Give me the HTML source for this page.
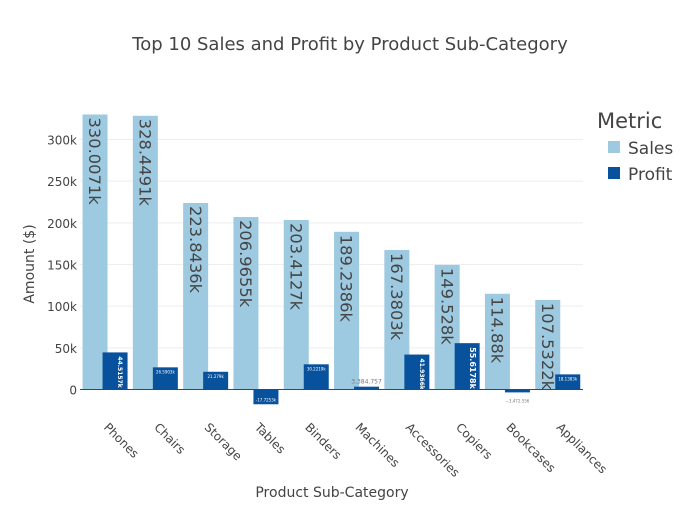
<!DOCTYPE html>
<html><head><meta charset="utf-8"><style>
body{margin:0;background:#fff}
svg text{font-family:"DejaVu Sans","Liberation Sans",sans-serif}
</style></head><body>
<svg id="chart" width="700" height="500">
<text x="350" y="50" text-anchor="middle" font-size="18" fill="#444">Top 10 Sales and Profit by Product Sub-Category</text>
<g id="grid"></g><g id="bars"></g><g id="labels"></g>
<text transform="translate(34,264) rotate(-90)" text-anchor="middle" font-size="14" fill="#444">Amount ($)</text>
<text x="332" y="497" text-anchor="middle" font-size="14" fill="#444">Product Sub-Category</text>
<g>
<text x="597" y="128" font-size="21" fill="#444">Metric</text>
<rect x="608" y="141" width="12" height="12" fill="#9ecae1"/>
<text x="628" y="154" font-size="17" fill="#444">Sales</text>
<rect x="608" y="167" width="12" height="12" fill="#08519c"/>
<text x="628" y="180" font-size="17" fill="#444">Profit</text>
</g>
</svg>
<script>
const categories=["Phones","Chairs","Storage","Tables","Binders","Machines","Accessories","Copiers","Bookcases","Appliances"];
const sales=[330.0071,328.4491,223.8436,206.9655,203.4127,189.2386,167.3803,149.528,114.88,107.5322];
const profit=[44.5157,26.5903,21.279,-17.7253,30.2219,3.3848,41.9366,55.6178,-3.4726,18.1383];
const salesLabels=["330.0071k","328.4491k","223.8436k","206.9655k","203.4127k","189.2386k","167.3803k","149.528k","114.88k","107.5322k"];
const profitLabels=["44.5157k","26.5903k","21.279k","-17.7253k","30.2219k","3,384.757","41.9366k","55.6178k","\u22123,472.556","18.1383k"];
const yTicks=[0,50,100,150,200,250,300];
const X0=80,W=503,Y0=389.5,K=0.8333;
const NS="http://www.w3.org/2000/svg";
const cw=W/categories.length;
const xc=i=>X0+cw*(i+0.5);
const y=v=>Y0-v*K;
function mk(tag,attrs,parent){const e=document.createElementNS(NS,tag);for(const k in attrs)e.setAttribute(k,attrs[k]);parent.appendChild(e);return e;}
const grid=document.getElementById('grid'),bars=document.getElementById('bars'),labels=document.getElementById('labels');
yTicks.forEach(t=>{
 if(t>0){const l=mk('line',{x1:X0,x2:X0+W,y1:y(t),y2:y(t),stroke:'#eee','stroke-width':1},grid);
 
 }
 const tx=mk('text',{x:X0-3,y:y(t)+5,'text-anchor':'end','font-size':12,fill:'#444'},grid);
 tx.textContent=t===0?'0':t+'k';
 
 
});
categories.forEach((c,i)=>{
 const cx=xc(i);
 const sb=mk('rect',{x:cx-22.6,y:y(sales[i]),width:25,height:Y0-y(sales[i]),fill:'#9ecae1'},bars);
 
 
 const p=profit[i];
 const pb=mk('rect',{x:cx-2.6,y:Math.min(y(p),Y0),width:25,height:Math.abs(Y0-y(p)),fill:'#08519c'},bars);
 
 
 const st=mk('text',{transform:`translate(${cx-16},${y(sales[i])+3}) rotate(90)`,'font-size':16.3,fill:'#444'},labels);
 st.textContent=salesLabels[i];
 
 
 const pc=cx+9.9;
 let pt;
 if(p>40){pt=mk('text',{transform:`translate(${pc+3},${y(p)+4}) rotate(90)`,'font-size':p>50?8:6,'font-weight':'bold',fill:'#fff'},labels);}
 else if(p>10){pt=mk('text',{x:pc,y:y(p)+6,'text-anchor':'middle','font-size':4,fill:'#fff'},labels);}
 else if(p>0){pt=mk('text',{x:pc,y:y(p)-3,'text-anchor':'middle','font-size':6,fill:'#777'},labels);}
 else if(p<-10){pt=mk('text',{x:pc,y:y(p)-3,'text-anchor':'middle','font-size':4,fill:'#fff'},labels);}
 else{pt=mk('text',{x:pc,y:y(p)+10,'text-anchor':'middle','font-size':4,fill:'#777'},labels);}
 pt.textContent=profitLabels[i];
 
 
 const xl=mk('text',{transform:`translate(${cx-2},${428}) rotate(45)`,'font-size':12,fill:'#444'},labels);
 xl.textContent=c;
 
 
});
const ax=mk('line',{x1:X0,x2:X0+W,y1:Y0,y2:Y0,stroke:'#444','stroke-width':1},labels);


</script>
</body></html>
